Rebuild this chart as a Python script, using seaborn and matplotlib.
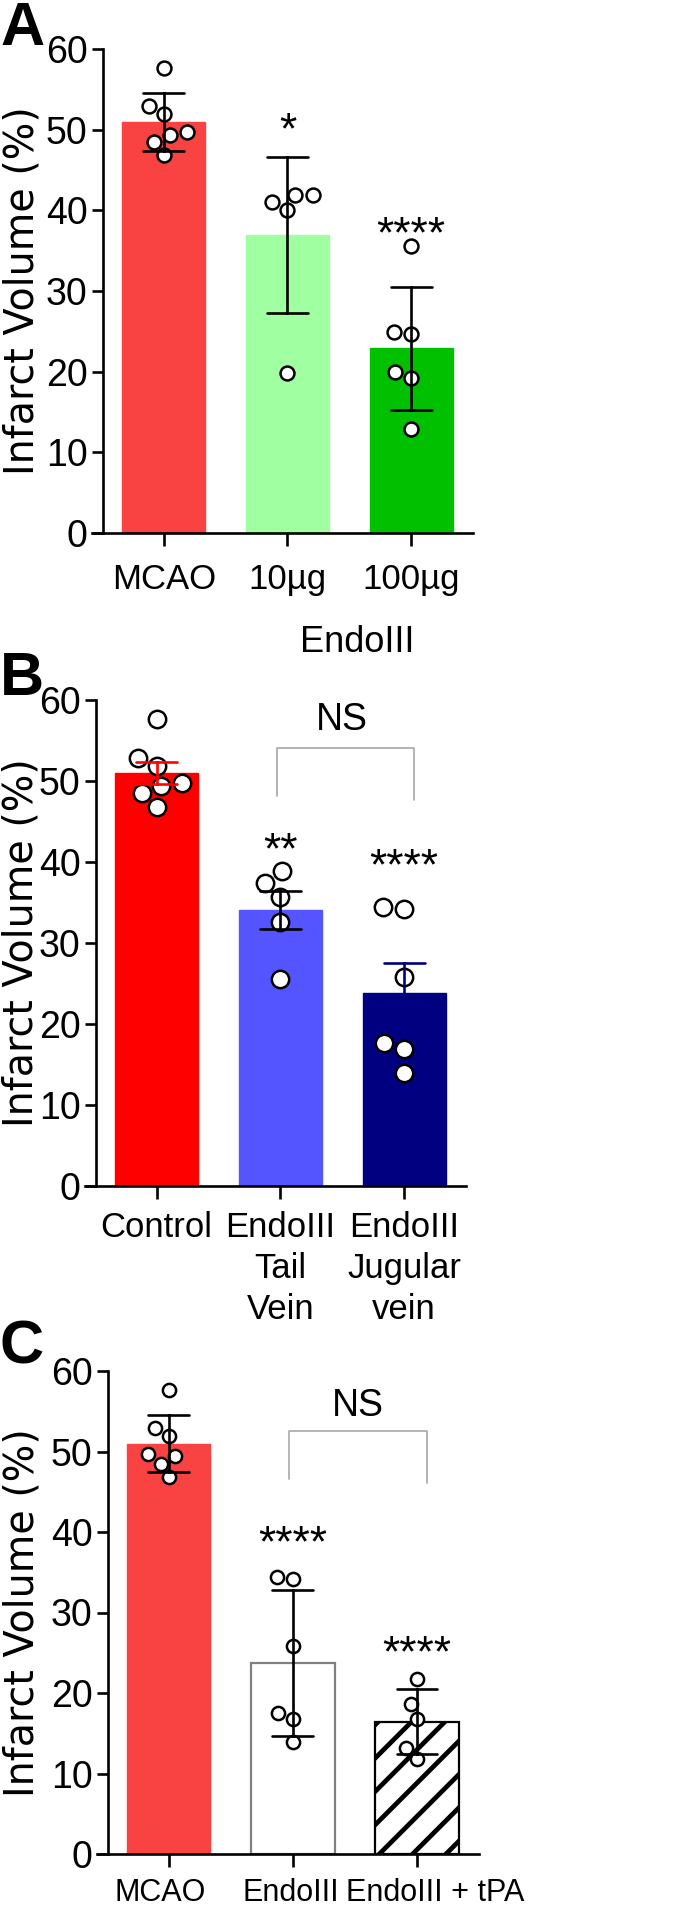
import numpy as np
import pandas as pd
import seaborn as sns
import matplotlib.pyplot as plt

# infarct volume (%) of each animal
mcao = [57.7, 52.9, 51.9, 49.4, 49.7, 48.5, 46.8]
endo_10ug = [41.9, 41.0, 40.1, 41.9, 19.8]
endo_100ug = [35.6, 24.7, 24.9, 20.0, 19.2, 12.9]
tail_vein = [37.4, 38.9, 35.7, 32.6, 25.6]
jugular_vein = [34.2, 34.5, 25.8, 17.6, 16.9, 14.0]
endo_only = [34.4, 34.1, 25.9, 17.5, 16.8, 13.9]
endo_tpa = [21.8, 18.6, 16.8, 13.2, 11.8]

labels_a = ['MCAO', '10µg', '100µg']
labels_b = ['Control', 'EndoIII\nTail\nVein', 'EndoIII\nJugular\nvein']
labels_c = ['MCAO', 'EndoIII', 'EndoIII + tPA']

stars_a = ['', '*', '****']
stars_b = ['', '**', '****']
stars_c = ['', '****', '****']
star_y_a = [0, 49.7, 36.8]
star_y_b = [0, 41.2, 39.3]
star_y_c = [0, 38.4, 24.8]

colors_a = ['#f94343', '#a0ffa0', '#00c000']
colors_b = ['#ff0000', '#5555ff', '#000080']
colors_c = ['#f94343', 'white', 'white']

sns.set_style('ticks')
plt.rcParams['font.family'] = ['Liberation Sans', 'DejaVu Sans']
plt.rcParams['hatch.linewidth'] = 3.4
for key in ['text.color', 'axes.labelcolor', 'xtick.color', 'ytick.color', 'axes.edgecolor']:
    plt.rcParams[key] = 'black'

W, H = 685, 1913
fig = plt.figure(figsize=(W / 100, H / 100), dpi=100)


def box(x0, x1, ytop, ybot):
    return [x0 / W, 1 - ybot / H, (x1 - x0) / W, (ybot - ytop) / H]


def panel(ax, groups, labels, colors, err, dot_size, err_colors, stars, star_y, ylab_x, xpad, xsize=25):
    df = pd.DataFrame({'group': np.repeat(labels, [len(g) for g in groups]),
                       'value': np.concatenate(groups)})
    sns.barplot(data=df, x='group', y='value', hue='group', order=labels, hue_order=labels,
                palette=colors, saturation=1, errorbar=err, capsize=0.33, width=0.67,
                err_kws={'linewidth': 1.9, 'color': 'black'}, legend=False, ax=ax)
    for line in ax.lines:
        i = int(round(np.nanmean(line.get_xdata())))
        line.set_color(err_colors[i])
        line.set_zorder(4)
    for p in ax.patches:
        i = int(round(p.get_x() + p.get_width() / 2))
        p.set_edgecolor(colors[i])
        p.set_linewidth(1)
    sns.swarmplot(data=df, x='group', y='value', order=labels, color='white',
                  edgecolor='black', linewidth=1.8, size=dot_size, ax=ax, zorder=3)
    for i, s in enumerate(stars):
        if s:
            ax.text(i, star_y[i], s, ha='center', va='center', fontsize=32)
    ax.set_xlim(-0.58, 2.5)
    ax.set_ylim(0, 60)
    ax.set_yticks(range(0, 61, 10))
    ax.spines['left'].set_position(('data', -0.495))
    for side in ['top', 'right']:
        ax.spines[side].set_visible(False)
    for side in ['left', 'bottom']:
        ax.spines[side].set_linewidth(1.9)
    ax.tick_params(axis='y', length=7.7, width=1.9, labelsize=27, pad=3)
    ax.tick_params(axis='x', length=9.5, width=1.9, labelsize=xsize, pad=xpad)
    ax.set_xlabel('')
    ax.set_ylabel('Infarct Volume (%)', fontsize=28.5, family='DejaVu Sans')
    ax.yaxis.set_label_coords(ylab_x, 0.5)


def bracket(ax, y_top, y_left, y_right, text_x, text_y):
    ax.plot([1 - 0.03, 1 - 0.03, 2 + 0.08, 2 + 0.08], [y_left, y_top, y_top, y_right],
            color='#a8a8a8', lw=1.2, zorder=2)
    ax.text(text_x, text_y, 'NS', ha='center', va='baseline', fontsize=27)


ax_a = fig.add_axes(box(92, 473, 49, 533))
panel(ax_a, [mcao, endo_10ug, endo_100ug], labels_a, colors_a, 'sd', 10,
      ['black'] * 3, stars_a, star_y_a, -0.131, 12)
ax_a.set_xlabel('EndoIII', fontsize=26)
ax_a.xaxis.set_label_coords(0.696, -0.19)

ax_b = fig.add_axes(box(85, 466, 700, 1186))
panel(ax_b, [mcao, tail_vein, jugular_vein], labels_b, colors_b, 'se', 12.5,
      colors_b[:1] + ['black'] + colors_b[2:], stars_b, star_y_b, -0.113, 8.5)
for t in ax_b.get_xticklabels():
    t.set_linespacing(1.3)
bracket(ax_b, 54.1, 48.1, 47.7, 1.5, 56.3)

ax_c = fig.add_axes(box(97, 479, 1371, 1854))
panel(ax_c, [mcao, endo_only, endo_tpa], labels_c, colors_c, 'sd', 9.5,
      ['black'] * 3, stars_c, star_y_c, -0.143, 10)
bars_c = sorted(ax_c.patches, key=lambda p: p.get_x())
bars_c[1].set_edgecolor('#808080')
bars_c[1].set_linewidth(1.6)
bars_c[2].set_edgecolor('black')
bars_c[2].set_linewidth(1.6)
bars_c[2].set_hatch('/')
# category names in C are written below the ticks, the long last one a little
# to the right of its bar as in the original
ax_c.tick_params(axis='x', labelbottom=False)
for i, (lab, dx) in enumerate(zip(labels_c, [-6, -1.5, 13])):
    ax_c.annotate(lab, xy=(i, 0), xycoords=('data', 'axes fraction'), xytext=(dx, -17.5),
                  textcoords='offset points', ha='center', va='top', fontsize=22)
bracket(ax_c, 52.6, 46.6, 46.1, 1.52, 54.4)

for letter, base in zip('ABC', [45, 695, 1363]):
    fig.text(0.0, 1 - base / H, letter, fontsize=44, fontweight='bold',
             ha='left', va='baseline')

fig.savefig('out.png', dpi=100)
